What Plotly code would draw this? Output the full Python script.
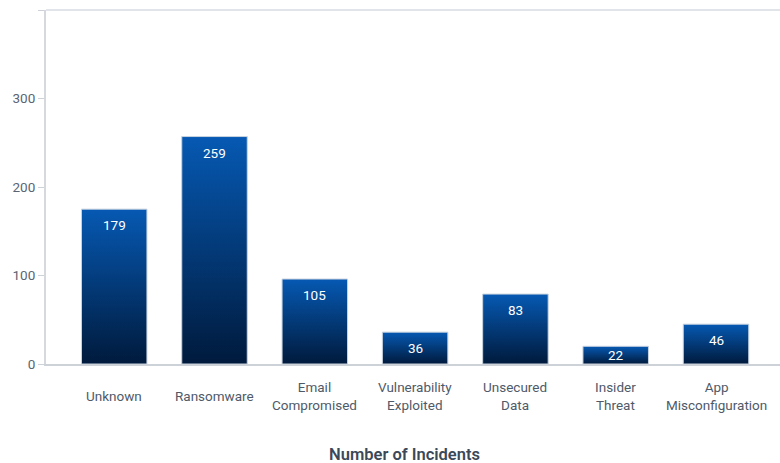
import plotly.graph_objects as go

categories = ["Unknown", "Ransomware", "Email<br>Compromised", "Vulnerability<br>Exploited",
              "Unsecured<br>Data", "Insider<br>Threat", "App<br>Misconfiguration"]
incidents = [179, 259, 105, 36, 83, 22, 46]          # labelled values
bar_heights = [175, 257, 96, 36, 79, 20, 45]          # drawn heights
y_tickvals = [0, 100, 200, 300, 400]
y_ticktext = ["0", "100", "200", "300", ""]

BAR_W = 0.653
TOP_C = "#0659b3"
BOT_C = "#001a3c"
FONT = "Roboto"

fig = go.Figure()
for i, h in enumerate(bar_heights):
    fig.add_trace(go.Scatter(
        x=[i - BAR_W / 2, i + BAR_W / 2, i + BAR_W / 2, i - BAR_W / 2, i - BAR_W / 2],
        y=[0, 0, h, h, 0],
        mode="lines", fill="toself",
        fillgradient=dict(type="vertical", colorscale=[[0, BOT_C], [1, TOP_C]]),
        line=dict(color="#c9d3df", width=1),
        hoverinfo="skip", showlegend=False,
    ))

px_per_unit = 354 / 400
for i, (h, v) in enumerate(zip(bar_heights, incidents)):
    shift = -min(16, h * px_per_unit / 2)
    fig.add_annotation(x=i, y=h, xref="x", yref="y", text=str(v), showarrow=False,
                       yanchor="middle", yshift=shift,
                       font=dict(family=FONT, size=13.5, color="#ffffff"))
    fig.add_annotation(x=i, y=0, xref="x", yref="y", text=categories[i], showarrow=False,
                       yanchor="middle", yshift=-32,
                       font=dict(family=FONT, size=13.5, color="#4f5a69"))

fig.add_annotation(x=0.489, y=0, xref="paper", yref="y", text="Number of Incidents",
                   showarrow=False, yanchor="middle", yshift=-90,
                   font=dict(family=FONT, size=16.5, color="#3b4858", weight=600))

fig.add_shape(type="line", xref="paper", yref="paper", x0=0, x1=1, y0=1, y1=1,
              line=dict(color="#e1e5e9", width=2))

fig.update_layout(
    width=780, height=463,
    margin=dict(l=46, r=0, t=10, b=99),
    plot_bgcolor="white", paper_bgcolor="white",
    xaxis=dict(range=[-0.68, 6.638], showgrid=False, zeroline=False, showticklabels=False,
               showline=True, linecolor="#cdd2d8", linewidth=2, ticks=""),
    yaxis=dict(range=[0, 400], tickvals=y_tickvals, ticktext=y_ticktext,
               showgrid=False, zeroline=False, showline=True, linecolor="#d5d9de",
               linewidth=2, ticks="outside", ticklen=6, tickcolor="#cdd2d8", tickwidth=1,
               tickfont=dict(family=FONT, size=13.5, color="#5a6472")),
)

fig.write_html("out.html")
